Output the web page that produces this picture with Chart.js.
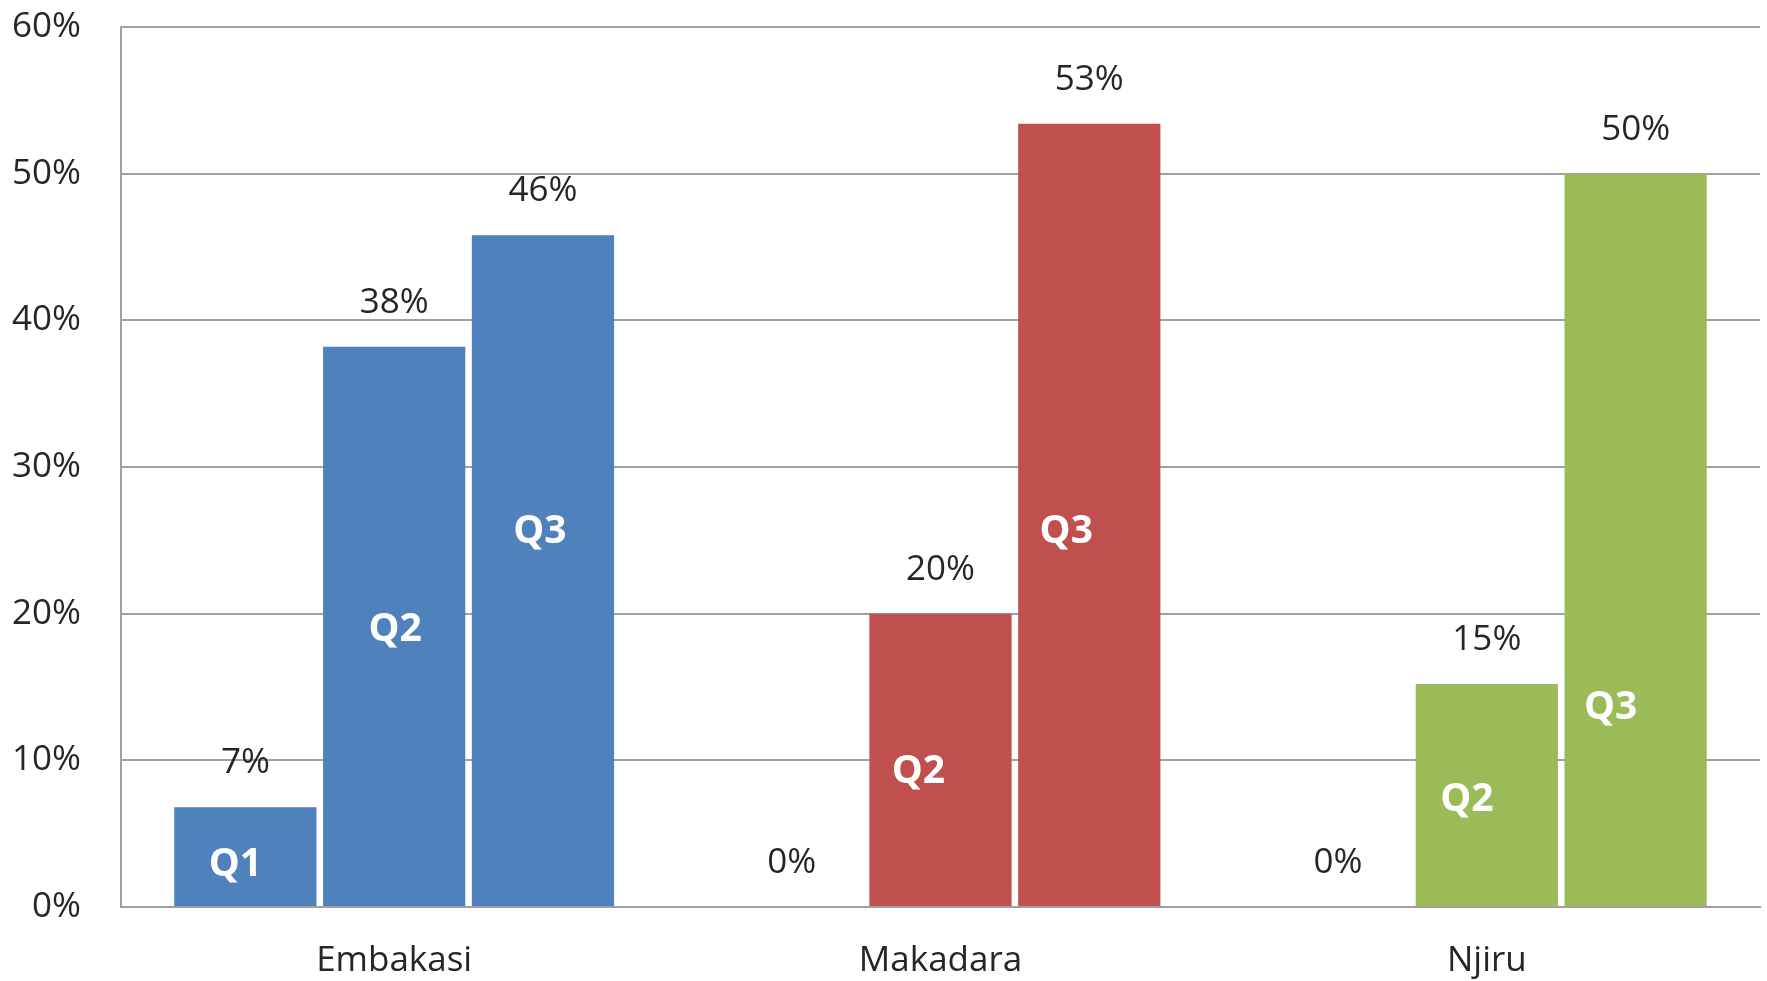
<!DOCTYPE html>
<html>
<head>
<meta charset="utf-8">
<script src="https://cdn.jsdelivr.net/npm/chart.js@4.4.0/dist/chart.umd.min.js"></script>
<style>
    body { margin: 0; background: #ffffff; }
    canvas { display: block; }
</style>
</head>
<body>
<canvas id="grafica" width="1767" height="981"></canvas>
<script>
var categorias = ["Embakasi", "Makadara", "Njiru"];
var series = ["Q1", "Q2", "Q3"];
var valoresQ1 = [6.8, 0, 0];
var valoresQ2 = [38.2, 20, 15.2];
var valoresQ3 = [45.8, 53.4, 50];
var marcasEje = ["0%", "10%", "20%", "30%", "40%", "50%", "60%"];

var colores = ["#4F81BD", "#C0504D", "#9BBB59"];
var fuente = "'Open Sans', sans-serif";

// posicion de las etiquetas Q1/Q2/Q3 dentro de las barras: [categoria][serie]
var etiquetaY = [[2.9, 18.9, 25.6], [null, 9.2, 25.6], [null, 7.3, 13.6]];
var etiquetaDx = [[-10, 1, -3], [0, -22, -23], [0, -20, -25]];

document.addEventListener("DOMContentLoaded", function () {

    var etiquetas = {
        id: "etiquetas",
        afterDatasetsDraw: function (chart) {
            var ctx = chart.ctx;
            var escalaY = chart.scales.y;
            ctx.save();
            ctx.textAlign = "center";
            ctx.textBaseline = "middle";
            chart.data.datasets.forEach(function (ds, i) {
                var meta = chart.getDatasetMeta(i);
                meta.data.forEach(function (barra, j) {
                    var valor = ds.data[j];
                    // valor encima de la barra
                    ctx.font = "35px " + fuente;
                    ctx.fillStyle = "#262626";
                    ctx.fillText(Math.round(valor) + "%", barra.x, barra.y - 44);
                    // nombre de la serie dentro de la barra
                    if (valor > 0 && etiquetaY[j][i] !== null) {
                        ctx.font = "bold 39px " + fuente;
                        ctx.fillStyle = "#ffffff";
                        ctx.fillText(series[i], barra.x + etiquetaDx[j][i], escalaY.getPixelForValue(etiquetaY[j][i]));
                    }
                });
            });
            ctx.restore();
        }
    };

    function armarDataset(nombre, valores) {
        return {
            label: nombre,
            data: valores,
            backgroundColor: colores,
            borderWidth: 0,
            barPercentage: 0.956,
            categoryPercentage: 0.817
        };
    }

    var ctx = document.getElementById("grafica").getContext("2d");
    var chart = new Chart(ctx, {
        type: "bar",
        plugins: [etiquetas],
        data: {
            labels: categorias,
            datasets: [
                armarDataset(series[0], valoresQ1),
                armarDataset(series[1], valoresQ2),
                armarDataset(series[2], valoresQ3)
            ]
        },
        options: {
            responsive: false,
            animation: false,
            layout: {
                padding: { top: 0, right: 7, left: 0, bottom: 0 }
            },
            plugins: {
                legend: { display: false },
                title: { display: false },
                tooltip: { enabled: false }
            },
            scales: {
                x: {
                    grid: { display: false, drawTicks: false },
                    border: { display: true, color: "#a0a0a0", width: 2 },
                    ticks: {
                        padding: 33,
                        color: "#262626",
                        font: { family: fuente, size: 35 }
                    },
                    afterFit: function (escala) {
                        escala.height = 74;
                    }
                },
                y: {
                    min: 0,
                    max: 60,
                    grid: {
                        color: "#a0a0a0",
                        lineWidth: 2,
                        drawTicks: true,
                        tickLength: 34,
                        tickColor: "rgba(0,0,0,0)"
                    },
                    border: { display: true, color: "#a0a0a0", width: 2 },
                    ticks: {
                        stepSize: 10,
                        padding: 6,
                        color: "#262626",
                        font: { family: fuente, size: 35 },
                        callback: function (valor, indice) {
                            return marcasEje[indice];
                        }
                    },
                    afterFit: function (escala) {
                        escala.width = 121;
                    }
                }
            }
        }
    });
});
</script>
</body>
</html>
